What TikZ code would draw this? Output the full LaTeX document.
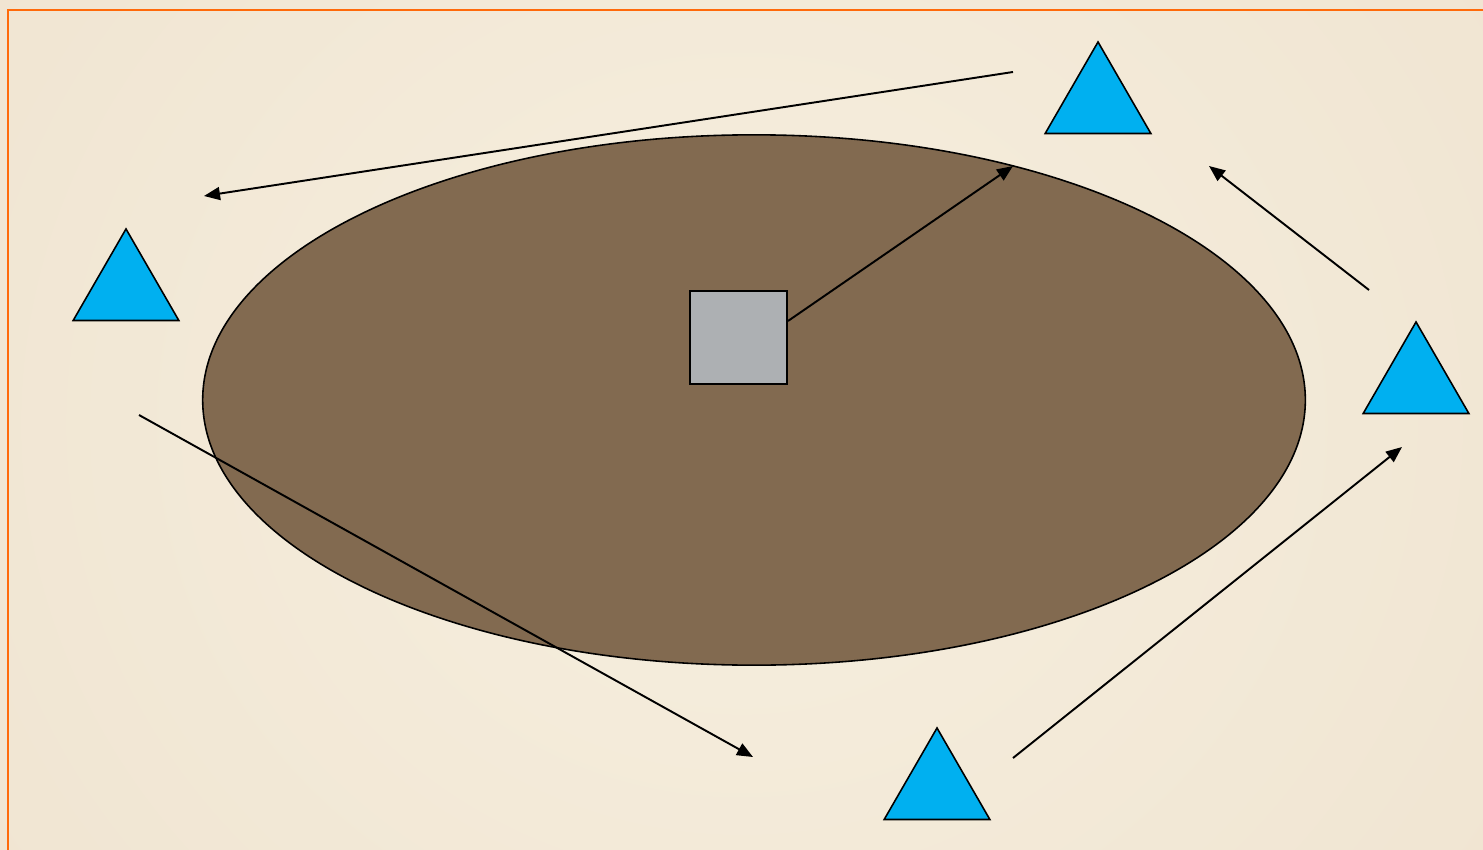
\documentclass[tikz,border=0pt]{standalone}
\usepackage{tikz}
\usetikzlibrary{shapes.geometric, arrows.meta, positioning}

\definecolor{cream}{HTML}{F6EFDF}
\definecolor{creamdark}{HTML}{EDDFCA}
\definecolor{frameorange}{HTML}{FF6A0A}
\definecolor{soilbrown}{HTML}{826A50}
\definecolor{boxgray}{HTML}{ADB0B3}
\definecolor{skyblue}{HTML}{00B0F0}

\tikzset{
  marker/.style={regular polygon, regular polygon sides=3, draw=black, fill=skyblue,
    line width=0.45pt, inner sep=0pt, minimum size=1.22cm},
  centerbox/.style={rectangle, draw=black, fill=boxgray, line width=0.55pt,
    minimum width=0.97cm, minimum height=0.93cm, inner sep=0pt},
  field/.style={ellipse, draw=black, fill=soilbrown, line width=0.45pt,
    minimum width=11.02cm, minimum height=5.3cm, inner sep=0pt}
}

\begin{document}
\begin{tikzpicture}[x=0.01cm, y=-0.01cm, >={Triangle[length=1.6mm,width=1.3mm]}, line width=0.55pt]
    \clip (0,0) rectangle (1483,849);
    \shade[inner color=cream, outer color=creamdark] (-700,-900) rectangle (2183,1749);
    \draw[frameorange, line width=0.5pt] (8,870) -- (8,10) -- (1500,10);

    % field and box
    \node[field] (fld) at (754,400) {};
    \node[centerbox] (sq) at (738.5,337.5) {};

    % markers
    \node[marker] (m1) at (126,290) {};
    \node[marker] (m2) at (1098,103) {};
    \node[marker] (m3) at (1416,383) {};
    \node[marker] (m4) at (937,789) {};

    % arrow ends
    \coordinate (w1) at (1013,72);
    \coordinate (w2) at (204,196);
    \coordinate (u1) at (1013,166);
    \coordinate (r1) at (1369,290);
    \coordinate (r2) at (1209,166);
    \coordinate (b1) at (1013,758);
    \coordinate (b2) at (1402,447);
    \coordinate (l1) at (139,415);
    \coordinate (l2) at (753,757);

    \draw[->] (w1) -- (w2);
    \draw[->] ([yshift=0.165cm]sq.east) -- (u1);
    \draw[->] (r1) -- (r2);
    \draw[->] (b1) -- (b2);
    \draw[->] (l1) -- (l2);
\end{tikzpicture}
\end{document}
